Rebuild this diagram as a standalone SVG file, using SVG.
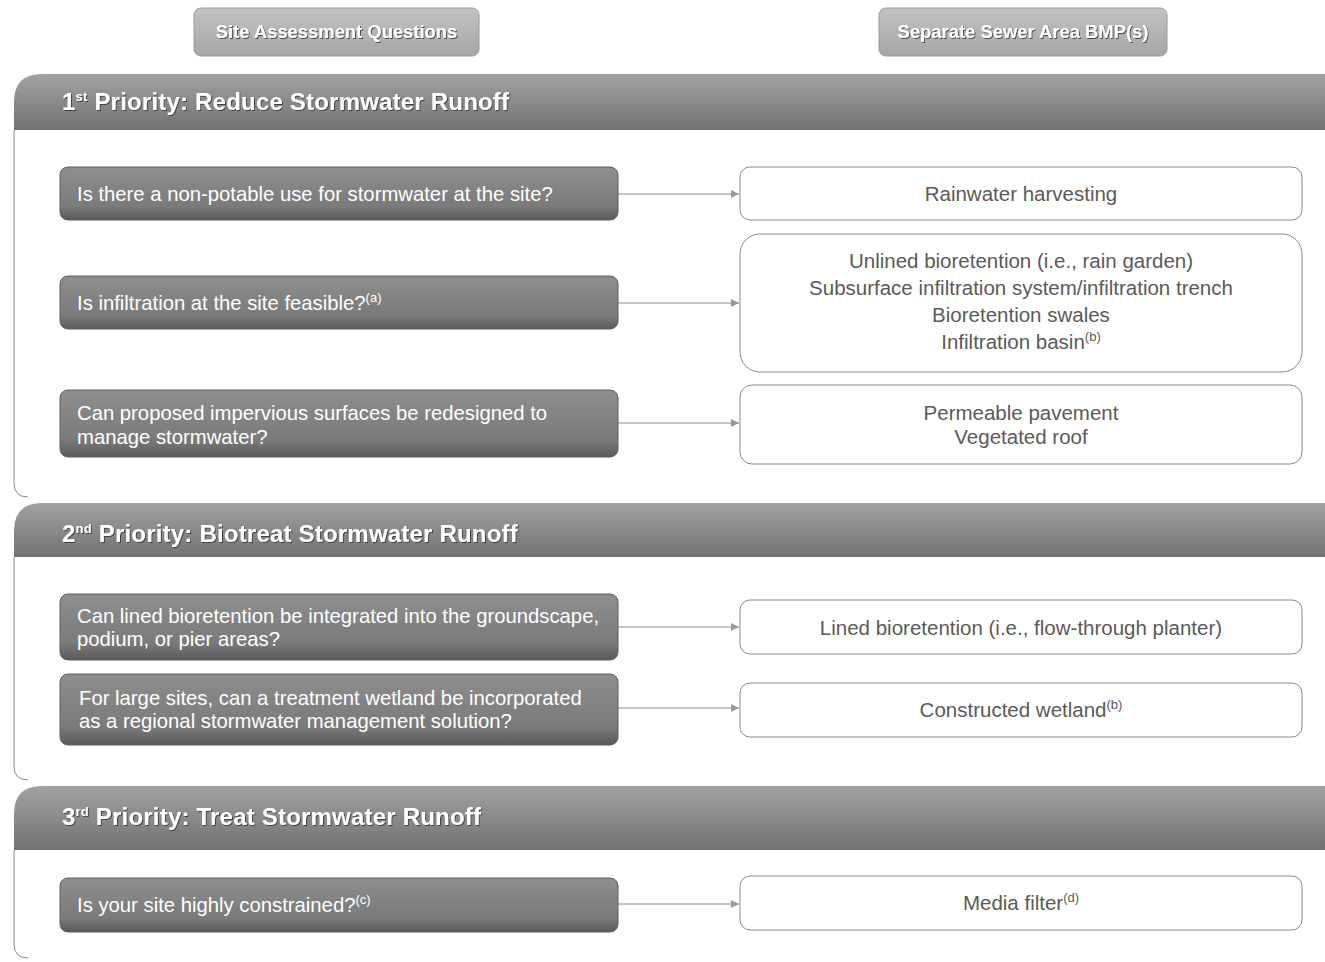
<svg xmlns="http://www.w3.org/2000/svg" width="1325" height="962" viewBox="0 0 1325 962">
<defs>
<linearGradient id="gBand" x1="0" y1="0" x2="0" y2="1">
<stop offset="0" stop-color="#a2a2a2"/><stop offset="0.5" stop-color="#8a8a8a"/><stop offset="1" stop-color="#727272"/>
</linearGradient>
<linearGradient id="gQ" x1="0" y1="0" x2="0" y2="1">
<stop offset="0" stop-color="#8e8e8e"/><stop offset="0.75" stop-color="#7a7a7a"/><stop offset="1" stop-color="#5a5a5a"/>
</linearGradient>
<linearGradient id="gBtn" x1="0" y1="0" x2="0" y2="1">
<stop offset="0" stop-color="#c2c2c2"/><stop offset="1" stop-color="#a6a6a6"/>
</linearGradient>
<filter id="sh" x="-5%" y="-30%" width="110%" height="160%">
<feDropShadow dx="1" dy="1" stdDeviation="0.6" flood-color="#333" flood-opacity="0.8"/>
</filter>
<marker id="arr" viewBox="0 0 10 10" refX="10" refY="5" markerWidth="8" markerHeight="8" markerUnits="userSpaceOnUse" orient="auto">
<path d="M0,0 L10,5 L0,10 Z" fill="#9a9a9a"/>
</marker>
</defs>
<style>
.btn{fill:url(#gBtn);stroke:#9a9a9a;stroke-width:1}
.btnt{font-family:"Liberation Sans",Arial,sans-serif;font-weight:bold;font-size:18.4px;fill:#fff;text-anchor:middle}
.band{fill:url(#gBand)}
.bandt{font-family:"Liberation Sans",Arial,sans-serif;font-weight:bold;font-size:24px;letter-spacing:0.2px;fill:#fff}
.frame{fill:none;stroke:#8a8a8a;stroke-width:1}
.q{fill:url(#gQ);stroke:#5e5e5e;stroke-width:1}
.qt{font-family:"Liberation Sans",Arial,sans-serif;font-size:20.3px;fill:#fff}
.b{fill:#fff;stroke:#8a8a8a;stroke-width:1}
.bt{font-family:"Liberation Sans",Arial,sans-serif;font-size:20.5px;fill:#5a5a5a;text-anchor:middle}
.sup{font-size:13px}
.con{stroke:#8a8a8a;stroke-width:1;fill:none;marker-end:url(#arr)}
</style>
<rect width="1325" height="962" fill="#fff"/>

<g id="hdr-questions">
<rect class="btn" x="194" y="8" width="285" height="48" rx="7"/>
<text class="btnt" x="336.5" y="38" filter="url(#sh)">Site Assessment Questions</text>
</g>
<g id="hdr-bmps">
<rect class="btn" x="879" y="8" width="288" height="48" rx="7"/>
<text class="btnt" x="1023" y="38" filter="url(#sh)">Separate Sewer Area BMP(s)</text>
</g>

<g id="section1">
<path class="frame" d="M14,130 V483 Q14,497 28,497"/>
<path class="band" d="M14,130 V102 Q14,74 42,74 H1325 V130 Z"/>
<text class="bandt" x="62" y="110" filter="url(#sh)">1<tspan class="sup" dy="-9">st</tspan><tspan dy="9">  Priority:  Reduce Stormwater Runoff</tspan></text>
</g>
<g id="section2">
<path class="frame" d="M14,557 V766 Q14,780 28,780"/>
<path class="band" d="M14,557 V531 Q14,503 42,503 H1325 V557 Z"/>
<text class="bandt" x="62" y="542" filter="url(#sh)">2<tspan class="sup" dy="-9">nd</tspan><tspan dy="9"> Priority: Biotreat Stormwater Runoff</tspan></text>
</g>
<g id="section3">
<path class="frame" d="M14,850 V944 Q14,958 28,958"/>
<path class="band" d="M14,850 V814 Q14,786 42,786 H1325 V850 Z"/>
<text class="bandt" x="62" y="825" filter="url(#sh)">3<tspan class="sup" dy="-9">rd</tspan><tspan dy="9"> Priority: Treat Stormwater Runoff</tspan></text>
</g>

<g id="connectors">
<line class="con" x1="618" y1="194" x2="739" y2="194"/>
<line class="con" x1="618" y1="303" x2="739" y2="303"/>
<line class="con" x1="618" y1="423" x2="739" y2="423"/>
<line class="con" x1="618" y1="627" x2="739" y2="627"/>
<line class="con" x1="618" y1="708" x2="739" y2="708"/>
<line class="con" x1="618" y1="904" x2="739" y2="904"/>
</g>

<g id="q1">
<rect class="q" x="60" y="167" width="558" height="53" rx="8"/>
<text class="qt" x="77" y="201">Is there a non-potable use for stormwater at the site?</text>
</g>
<g id="q2">
<rect class="q" x="60" y="276" width="558" height="53" rx="8"/>
<text class="qt" x="77" y="310">Is infiltration at the site feasible?<tspan class="sup" dy="-8">(a)</tspan></text>
</g>
<g id="q3">
<rect class="q" x="60" y="390" width="558" height="67" rx="8"/>
<text class="qt" x="77" y="420">Can proposed impervious surfaces be redesigned to</text>
<text class="qt" x="77" y="444">manage stormwater?</text>
</g>
<g id="q4">
<rect class="q" x="60" y="594" width="558" height="66" rx="8"/>
<text class="qt" x="77" y="623">Can lined bioretention be integrated into the groundscape,</text>
<text class="qt" x="77" y="646">podium, or pier areas?</text>
</g>
<g id="q5">
<rect class="q" x="60" y="674" width="558" height="71" rx="8"/>
<text class="qt" x="79" y="705">For large sites, can a treatment wetland be incorporated</text>
<text class="qt" x="79" y="728">as a regional stormwater management solution?</text>
</g>
<g id="q6">
<rect class="q" x="60" y="878" width="558" height="54" rx="8"/>
<text class="qt" x="77" y="912">Is your site highly constrained?<tspan class="sup" dy="-8">(c)</tspan></text>
</g>

<g id="b1">
<rect class="b" x="740" y="167" width="562" height="53" rx="10"/>
<text class="bt" x="1021" y="201">Rainwater harvesting</text>
</g>
<g id="b2">
<rect class="b" x="740" y="234" width="562" height="138" rx="20"/>
<text class="bt" x="1021" y="268">Unlined bioretention (i.e., rain garden)</text>
<text class="bt" x="1021" y="295">Subsurface infiltration system/infiltration trench</text>
<text class="bt" x="1021" y="322">Bioretention swales</text>
<text class="bt" x="1021" y="349">Infiltration basin<tspan class="sup" dy="-8">(b)</tspan></text>
</g>
<g id="b3">
<rect class="b" x="740" y="385" width="562" height="79" rx="12"/>
<text class="bt" x="1021" y="420">Permeable pavement</text>
<text class="bt" x="1021" y="444">Vegetated roof</text>
</g>
<g id="b4">
<rect class="b" x="740" y="600" width="562" height="54" rx="10"/>
<text class="bt" x="1021" y="635">Lined bioretention (i.e., flow-through planter)</text>
</g>
<g id="b5">
<rect class="b" x="740" y="683" width="562" height="54" rx="10"/>
<text class="bt" x="1021" y="717">Constructed wetland<tspan class="sup" dy="-8">(b)</tspan></text>
</g>
<g id="b6">
<rect class="b" x="740" y="876" width="562" height="54" rx="10"/>
<text class="bt" x="1021" y="910">Media filter<tspan class="sup" dy="-8">(d)</tspan></text>
</g>
</svg>
